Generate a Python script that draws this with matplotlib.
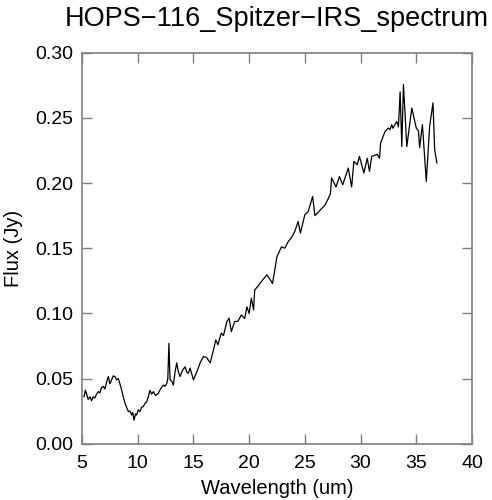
import numpy as np
import matplotlib
matplotlib.use('Agg')
import matplotlib.pyplot as plt

plt.rcParams['font.family'] = ['Liberation Sans', 'DejaVu Sans']

# Espectro (longitud de onda en um, flujo en Jy)
wavelength = [
    5.18, 5.3, 5.42, 5.55, 5.72, 5.85, 6.0, 6.15, 6.3, 6.47, 6.6, 6.75, 6.9,
    7.05, 7.2, 7.36, 7.5, 7.66, 7.8, 7.96, 8.1, 8.26, 8.4, 8.56, 8.7, 8.86,
    9.0, 9.16, 9.3, 9.46, 9.55, 9.67, 9.8, 9.9, 10.05, 10.2, 10.35, 10.5,
    10.65, 10.8, 10.95, 11.1, 11.25, 11.4, 11.6, 11.85, 12.05, 12.3, 12.45,
    12.6, 12.7, 12.8, 12.9, 13.05, 13.2, 13.35, 13.5, 13.65, 13.8, 14.0,
    14.25, 14.4, 14.54, 14.7, 15.0, 15.3, 15.6, 15.9, 16.2, 16.5, 16.8, 17.0,
    17.2, 17.5, 17.7, 18.0, 18.2, 18.4, 18.7, 19.0, 19.3, 19.6, 19.8, 20.0,
    20.2, 20.4, 20.5, 20.8, 21.1, 21.6, 22.1, 22.5, 22.9, 23.2, 23.5, 23.8,
    24.1, 24.4, 24.6, 25.0, 25.3, 25.7, 25.9, 26.4, 26.8, 27.1, 27.3, 27.4,
    27.8, 28.1, 28.4, 28.9, 29.2, 29.4, 29.7, 29.9, 30.3, 30.6, 30.8, 31.0,
    31.5, 31.7, 31.8, 32.2, 32.5, 32.65, 32.8, 32.9, 33.25, 33.4, 33.55,
    33.7, 33.85, 34.15, 34.6, 35.0, 35.2, 35.3, 35.55, 35.9, 36.2, 36.5,
    36.65, 36.85,
]
flux = [
    0.036, 0.041, 0.038, 0.034, 0.036, 0.033, 0.036, 0.035, 0.038, 0.040,
    0.039, 0.043, 0.044, 0.042, 0.047, 0.0515, 0.046, 0.049, 0.052, 0.0515,
    0.049, 0.050, 0.046, 0.041, 0.036, 0.031, 0.028, 0.0246, 0.025, 0.022,
    0.024, 0.018, 0.023, 0.022, 0.026, 0.0246, 0.028, 0.0284, 0.031, 0.032,
    0.036, 0.041, 0.038, 0.040, 0.037, 0.0387, 0.042, 0.045, 0.044, 0.046,
    0.050, 0.077, 0.049, 0.048, 0.045, 0.055, 0.062, 0.055, 0.0515, 0.056,
    0.059, 0.055, 0.054, 0.058, 0.049, 0.055, 0.062, 0.067, 0.066, 0.062,
    0.072, 0.0796, 0.076, 0.0848, 0.083, 0.0937, 0.0963, 0.086, 0.0937,
    0.094, 0.0988, 0.096, 0.105, 0.100, 0.1117, 0.1027, 0.118, 0.121,
    0.1244, 0.1296, 0.123, 0.1436, 0.151, 0.150, 0.155, 0.158, 0.163,
    0.1705, 0.1616, 0.1757, 0.178, 0.1897, 0.175, 0.1795, 0.183, 0.188,
    0.192, 0.204, 0.197, 0.205, 0.1987, 0.2115, 0.197, 0.2166, 0.214,
    0.2204, 0.2077, 0.219, 0.209, 0.2204, 0.222, 0.219, 0.2307, 0.2396,
    0.2422, 0.241, 0.2448, 0.242, 0.2473, 0.243, 0.270, 0.228, 0.2755,
    0.228, 0.2576, 0.2422, 0.240, 0.227, 0.2448, 0.2012, 0.2435, 0.2615,
    0.2256, 0.2154,
]

fig = plt.figure(figsize=(4.92, 5.00), dpi=100)
ax = fig.add_axes([0.1667, 0.1126, 0.7926, 0.782])

ax.plot(wavelength, flux, color='black', linewidth=0.9)

ax.set_xlim(5, 40)
ax.set_ylim(0, 0.30)
ax.set_xticks(np.arange(5, 41, 5))
ax.set_yticks(np.arange(0, 0.301, 0.05))
ax.set_yticklabels(['%.2f' % v for v in np.arange(0, 0.301, 0.05)])

for s in ax.spines.values():
    s.set_color('#808080')
    s.set_linewidth(1.2)
ax.tick_params(direction='in', length=7, width=1, color='#808080',
               top=True, right=True, labelsize=14, labelcolor='black')
ax.tick_params(axis='x', pad=8)
ax.tick_params(axis='y', pad=6)

ax.set_xlabel('Wavelength (um)', fontsize=14.5, labelpad=5)
ax.set_ylabel('Flux (Jy)', fontsize=14.5, labelpad=9)
ax.set_title('HOPS\u2212116_Spitzer\u2212IRS_spectrum', fontsize=19.5, pad=19)

plt.savefig('out.png', dpi=100, facecolor='white')
plt.close()
